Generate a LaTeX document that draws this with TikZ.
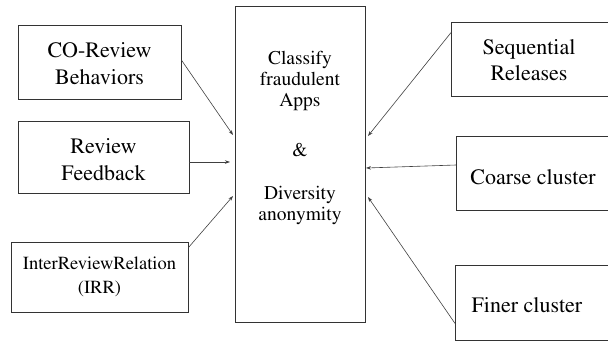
\documentclass[tikz,border=0pt]{standalone}
\usepackage[T1]{fontenc}
\usepackage{times}
\usetikzlibrary{arrows.meta}
\begin{document}
\begin{tikzpicture}[x=1pt,y=-1pt,
  box/.style={draw=black!80, line width=0.8pt, rectangle, inner sep=0pt, align=center,
    font=\fontsize{22}{27}\selectfont},
  txt/.style={inner sep=0pt, align=center, font=\fontsize{19.5}{21}\selectfont},
  lbl/.style={inner sep=0pt, align=center, font=\fontsize{22}{27}\selectfont},
  arr/.style={draw=black!75, line width=0.6pt, -{Stealth[length=5pt,width=3.5pt]}}]
\useasboundingbox (0,0) rectangle (608,341);
\clip (0,0) rectangle (608,341);
% left boxes
\node[box, minimum width=163pt, minimum height=74pt] (co) at (99.5,62) {};
\node[lbl] (cot0) at (99.5,64) {CO-Review\\Behaviors};
\node[box, minimum width=171pt, minimum height=72pt] (rf) at (103.5,157) {};
\node[lbl] (rft) at (103.5,159.5) {Review\\Feedback};
\node[box, minimum width=177pt, minimum height=70pt] (irr) at (99.5,277) {};
\node[lbl, font=\fontsize{18.5}{24}\selectfont] (irrt) at (99.5,276.5) {InterReviewRelation\\(IRR)};
% centre box
\node[draw=black!80, line width=0.8pt, rectangle, minimum width=130pt, minimum height=316pt, inner sep=0pt] (cls) at (300,164) {};
\node[txt] (t1) at (300,81) {Classify\\fraudulent\\Apps};
\node[txt] (t2) at (300,150) {\&};
\node[txt] (t3) at (300,205) {Diversity\\anonymity};
% right boxes
\node[box, minimum width=159pt, minimum height=74pt, anchor=west] (seq) at (451,59) {};
\node[lbl, font=\fontsize{22}{26}\selectfont] (seqt) at (529,60.5) {Sequential\\Releases};
\node[box, minimum width=154pt, minimum height=74pt, anchor=west] (co2) at (456,173) {};
\node[lbl] (cot) at (533,177) {Coarse cluster};
\node[box, minimum width=155pt, minimum height=75pt, anchor=west] (fin) at (455,302.5) {};
\node[lbl] (fint) at (527,305) {Finer cluster};
% arrow end points on the centre box
\coordinate (e1) at (233,135);
\coordinate (e2) at (230,162);
\coordinate (e3) at (233,196);
\coordinate (e4) at (368,136);
\coordinate (e5) at (366,168);
\coordinate (e6) at (368,197);
\draw[arr] (co.east) ++(0,-2) -- (e1);
\draw[arr] (rf.east) ++(0,5) -- (e2);
\draw[arr] (irr.north east) ++(0,6) -- (e3);
\draw[arr] (seq.north west) ++(0,11) -- (e4);
\draw[arr] (co2.west) ++(0,-8) -- (e5);
\draw[arr] (fin.south west) ++(0,-17) -- (e6);
\end{tikzpicture}
\end{document}
